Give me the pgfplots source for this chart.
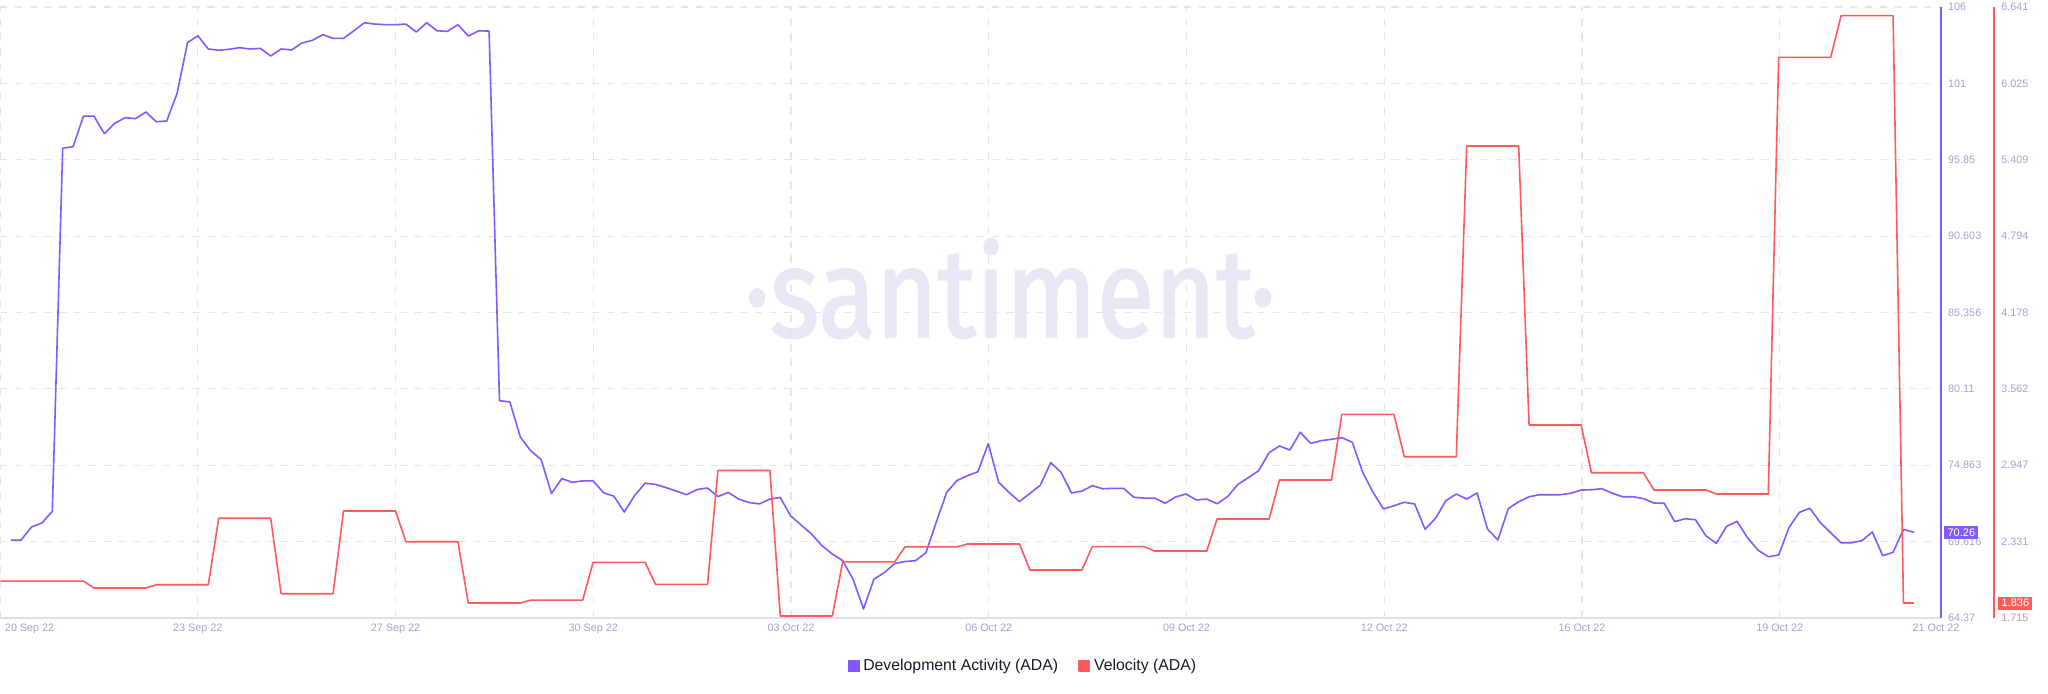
\documentclass[border=0pt]{standalone}
\usepackage{pgfplots}
\pgfplotsset{compat=1.18}
\usepackage{fontspec}
\setmainfont{Liberation Sans}
\newfontfamily\wmfont{Fira Sans}[FakeBold=1.6]
\definecolor{devpurple}{RGB}{131,88,255}
\definecolor{velred}{RGB}{255,91,91}
\definecolor{tickcol}{RGB}{165,160,210}
\definecolor{gridcol}{RGB}{228,228,242}
\definecolor{basecol}{RGB}{222,222,238}
\definecolor{wmcol}{RGB}{232,232,245}
\definecolor{legtext}{RGB}{24,26,42}

\pgfplotstableread{
k v
0 69.71
1 69.73
2 70.62
3 70.90
4 71.70
5 96.64
6 96.75
7 98.85
8 98.85
9 97.64
10 98.35
11 98.74
12 98.67
13 99.13
14 98.46
15 98.51
16 100.41
17 103.89
18 104.37
19 103.46
20 103.37
21 103.44
22 103.55
23 103.46
24 103.50
25 102.98
26 103.46
27 103.39
28 103.87
29 104.05
30 104.44
31 104.19
32 104.19
33 104.71
34 105.26
35 105.17
36 105.13
37 105.13
38 105.17
39 104.63
40 105.26
41 104.71
42 104.67
43 105.13
44 104.35
45 104.71
46 104.69
47 79.30
48 79.21
49 76.80
50 75.86
51 75.26
52 72.92
53 73.95
54 73.69
55 73.79
56 73.79
57 72.98
58 72.74
59 71.65
60 72.79
61 73.63
62 73.55
63 73.33
64 73.09
65 72.84
66 73.20
67 73.30
68 72.71
69 73.00
70 72.54
71 72.30
72 72.21
73 72.54
74 72.65
75 71.38
76 70.76
77 70.15
78 69.34
79 68.77
80 68.31
81 67.03
82 64.99
83 67.03
84 67.49
85 68.11
86 68.25
87 68.31
88 68.85
89 70.96
90 73.00
91 73.82
92 74.15
93 74.42
94 76.35
95 73.69
96 72.99
97 72.37
98 72.93
99 73.49
100 75.04
101 74.38
102 72.96
103 73.09
104 73.46
105 73.25
106 73.28
107 73.28
108 72.66
109 72.61
110 72.61
111 72.25
112 72.68
113 72.89
114 72.48
115 72.54
116 72.22
117 72.70
118 73.55
119 74.01
120 74.49
121 75.73
122 76.19
123 75.91
124 77.13
125 76.37
126 76.55
127 76.65
128 76.76
129 76.44
130 74.38
131 73.00
132 71.86
133 72.08
134 72.32
135 72.20
136 70.46
137 71.22
138 72.43
139 72.89
140 72.54
141 72.96
142 70.48
143 69.73
144 71.88
145 72.36
146 72.70
147 72.84
148 72.84
149 72.84
150 72.94
151 73.16
152 73.18
153 73.25
154 72.94
155 72.70
156 72.70
157 72.57
158 72.27
159 72.25
160 70.99
161 71.19
162 71.12
163 70.02
164 69.50
165 70.67
166 71.01
167 69.89
168 69.04
169 68.58
170 68.70
171 70.60
172 71.63
173 71.91
174 70.92
175 70.23
176 69.54
177 69.54
178 69.68
179 70.28
180 68.65
181 68.88
182 70.46
183 70.26
}\devdata

\pgfplotstableread{
k v
-1 2.013
7 2.013
8 1.957
13 1.957
14 1.983
19 1.983
20 2.519
25 2.519
26 1.911
31 1.911
32 2.578
37 2.578
38 2.330
43 2.330
44 1.836
49 1.836
50 1.859
55 1.859
56 2.164
61 2.164
62 1.986
67 1.986
68 2.904
73 2.904
74 1.731
79 1.731
80 2.167
85 2.167
86 2.289
91 2.289
92 2.312
97 2.312
98 2.102
103 2.102
104 2.290
109 2.290
110 2.255
115 2.255
116 2.513
121 2.513
122 2.828
127 2.828
128 3.357
133 3.357
134 3.015
139 3.015
140 5.520
145 5.520
146 3.271
151 3.271
152 2.886
157 2.886
158 2.747
163 2.747
164 2.715
169 2.715
170 6.235
175 6.235
176 6.571
181 6.571
182 1.836
183 1.836
}\veldata

\pgfplotsset{
  common/.style={
    at={(0pt,0pt)}, anchor=south west, scale only axis,
    width=970.5pt, height=305.5pt,
    xmin=-1.029, xmax=185.61,
    clip=false,
    axis line style={draw=none},
    tick style={draw=none}, major tick length=0pt,
    tick label style={font=\fontsize{5.4}{6}\selectfont, text=tickcol},
    yticklabel pos=right,
  }
}

\begin{document}
\begin{tikzpicture}
\path[use as bounding box] (0pt,-37.5pt) rectangle (1024pt,309pt);
\node[anchor=base, text=wmcol, inner sep=0pt] at (505pt,140.5pt)
  {\scalebox{0.84}[1]{\wmfont\fontsize{63}{70}\selectfont ·santiment·}};

\begin{axis}[common,
  ymin=64.37, ymax=106.343,
  xtick={-1.029,17.985,36.999,56.013,75.027,94.041,113.055,132.069,151.083,170.097},
  xticklabels={\hspace*{5pt}\rlap{20 Sep 22},23 Sep 22,27 Sep 22,30 Sep 22,03 Oct 22,06 Oct 22,09 Oct 22,12 Oct 22,16 Oct 22,19 Oct 22},
  extra x ticks={185.13}, extra x tick labels={21 Oct 22},
  extra x tick style={grid=none},
  ytick={64.37,69.616,74.863,80.11,85.356,90.603,95.85,101.097,106.343},
  yticklabels={64.37,69.616,74.863,80.11,85.356,90.603,95.85,101,106},
  grid=major,
  major grid style={draw=gridcol, line width=0.6pt, dash pattern=on 3.7pt off 3.7pt},
  yticklabel style={anchor=west, inner sep=0pt, xshift=3.4pt},
  xticklabel style={anchor=north, inner sep=0pt, yshift=-3pt},
]
\addplot[color=devpurple, line width=0.8pt, line join=round, mark=none] table[x=k, y=v] {\devdata};
\draw[basecol, line width=0.6pt] (rel axis cs:0,0) -- (rel axis cs:1,0);
\draw[devpurple, line width=0.6pt] (rel axis cs:1,0) -- (rel axis cs:1,1);
\node[fill=devpurple, text=white, anchor=west, inner xsep=1.6pt, inner ysep=1.3pt,
      text height=3.9pt, text depth=0pt, font=\fontsize{5.5}{6}\selectfont]
  at ([xshift=1.5pt]axis cs:185.61,70.26) {70.26};
\end{axis}

\begin{axis}[common,
  ymin=1.715, ymax=6.641,
  xtick=\empty,
  ytick={1.715,2.33075,2.9465,3.56225,4.178,4.79375,5.4095,6.02525,6.641},
  yticklabels={1.715,2.331,2.947,3.562,4.178,4.794,5.409,6.025,6.641},
  yticklabel style={anchor=west, inner sep=0pt, xshift=30pt},
  legend style={at={(0.5276,-0.0786)}, anchor=center, draw=none, fill=none,
    font=\fontsize{7.9}{9.5}\selectfont, text=legtext, legend columns=2,
    /tikz/every even column/.append style={column sep=8pt}},
  legend image code/.code={\fill[#1] (0pt,-2.6pt) rectangle (5.2pt,2.6pt);},
]
\addlegendimage{color=devpurple}
\addlegendentry{Development Activity (ADA)}
\addplot[color=velred, line width=0.8pt, line join=round, mark=none] table[x=k, y=v] {\veldata};
\addlegendentry{Velocity (ADA)}
\draw[velred, line width=0.6pt, xshift=26.5pt] (rel axis cs:1,0) -- (rel axis cs:1,1);
\node[fill=velred, text=white, anchor=west, inner xsep=1.6pt, inner ysep=1.3pt,
      text height=3.9pt, text depth=0pt, font=\fontsize{5.5}{6}\selectfont]
  at ([xshift=28.5pt]axis cs:185.61,1.836) {1.836};
\end{axis}
\end{tikzpicture}
\end{document}
